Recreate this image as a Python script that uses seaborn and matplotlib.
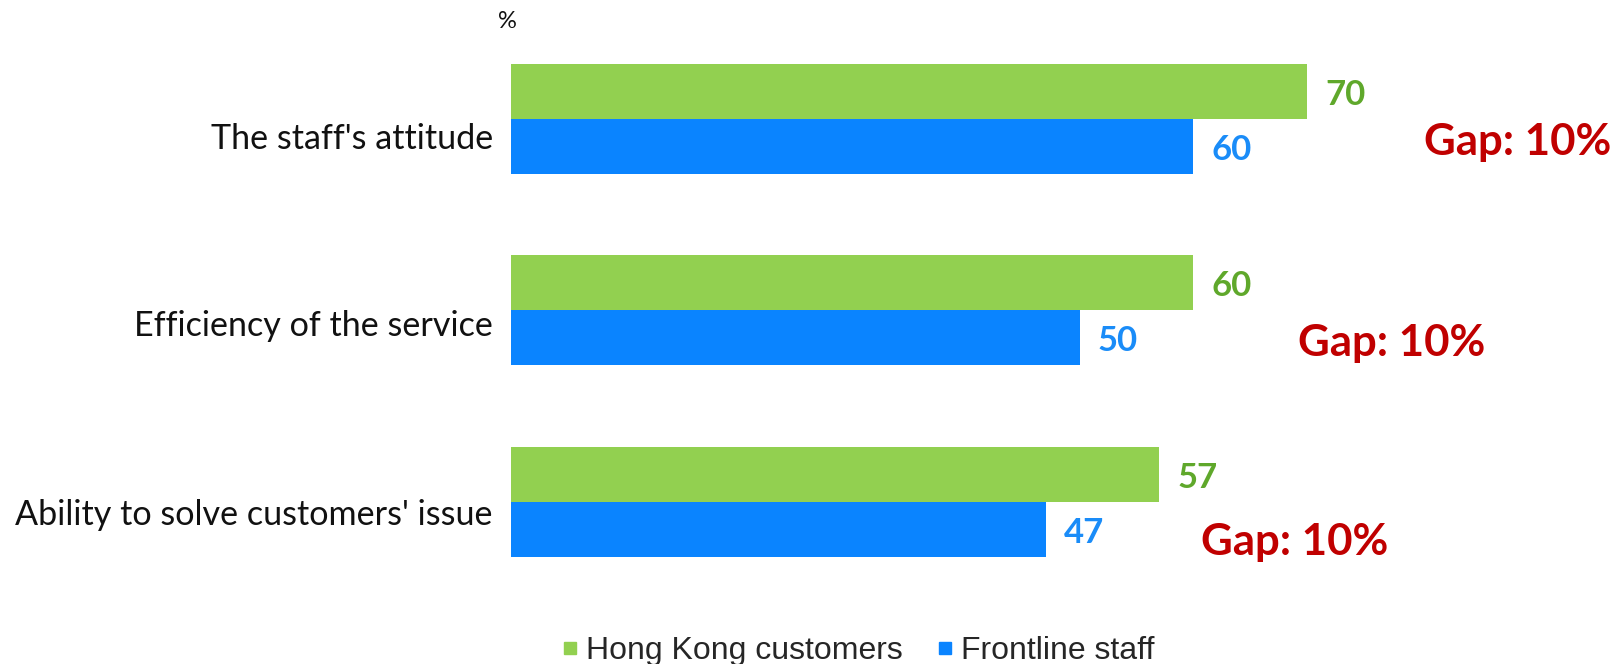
import matplotlib
matplotlib.use("Agg")
import matplotlib.pyplot as plt
import matplotlib.transforms as mtransforms
import seaborn as sns
import pandas as pd
from matplotlib.lines import Line2D

# ---- data ----
categories = ["The staff's attitude", "Efficiency of the service", "Ability to solve customers' issue"]
series_names = ["Hong Kong customers", "Frontline staff"]
hk_customers = [70, 60, 57]
frontline_staff = [60, 50, 47]

# ---- styles / layout ----
bar_colors = ["#92D050", "#0A84FF"]
label_colors = ["#5FA82B", "#1A8CF8"]
gap_color = "#C00000"
gap_x = [80.3, 69.2, 60.7]       # layout positions of gap annotations (data units)
gap_dy = [0.12, 0.17, 0.21]
label_shift_px = [17, 13, 10]    # downward shift of category labels

df = pd.DataFrame({
    "category": categories * 2,
    "value": hk_customers + frontline_staff,
    "series": [series_names[0]] * len(categories) + [series_names[1]] * len(categories),
})

sns.set_theme(style="white")
plt.rcParams["font.family"] = ["Lato", "DejaVu Sans"]

fig = plt.figure(figsize=(16.2, 6.64), dpi=100)
ax = fig.add_axes([0.3154, 0.0994, 0.6846, 0.866])

sns.barplot(data=df, y="category", x="value", hue="series", orient="h",
            palette=bar_colors, width=0.574, saturation=1, legend=False,
            ax=ax, linewidth=0)

ax.set_xlim(0, 97.5)
ax.set_ylim(2.5, -0.5)
ax.set_xticks([])
ax.set_xlabel("")
ax.set_ylabel("")
sns.despine(ax=ax, left=True, bottom=True)
ax.tick_params(axis="y", length=0, pad=13, labelsize=24.6, labelcolor="#111111")

for lbl, dy in zip(ax.get_yticklabels(), label_shift_px):
    lbl.set_transform(lbl.get_transform() +
                      mtransforms.ScaledTranslation(0, -dy / 100, fig.dpi_scale_trans))

for cont, col, vals in zip(ax.containers, label_colors, [hk_customers, frontline_staff]):
    texts = ax.bar_label(cont, labels=[str(v) for v in vals], padding=13, color=col,
                         fontsize=25, fontweight="bold")
    for t in texts:
        ox, oy = t.xyann
        t.xyann = (ox, oy - 2.3)

for i, (a, b) in enumerate(zip(hk_customers, frontline_staff)):
    ax.text(gap_x[i], i + gap_dy[i], f"Gap: {a - b}%", ha="left", va="center",
            color=gap_color, fontsize=31.5, fontweight="bold")

fig.text(498 / 1620, 1 - 21 / 664, "%", ha="left", va="center", fontsize=17, color="#111111")

handles = [Line2D([], [], marker="s", linestyle="", markersize=9.2, color=c) for c in bar_colors]
fig.legend(handles, series_names, loc="center", bbox_to_anchor=(859 / 1620, 13 / 664),
           ncol=2, frameon=False, handlelength=0.4, handletextpad=0.28, columnspacing=1.15,
           prop={"family": "Liberation Sans", "size": 23})

fig.savefig("out.png", dpi=100)
